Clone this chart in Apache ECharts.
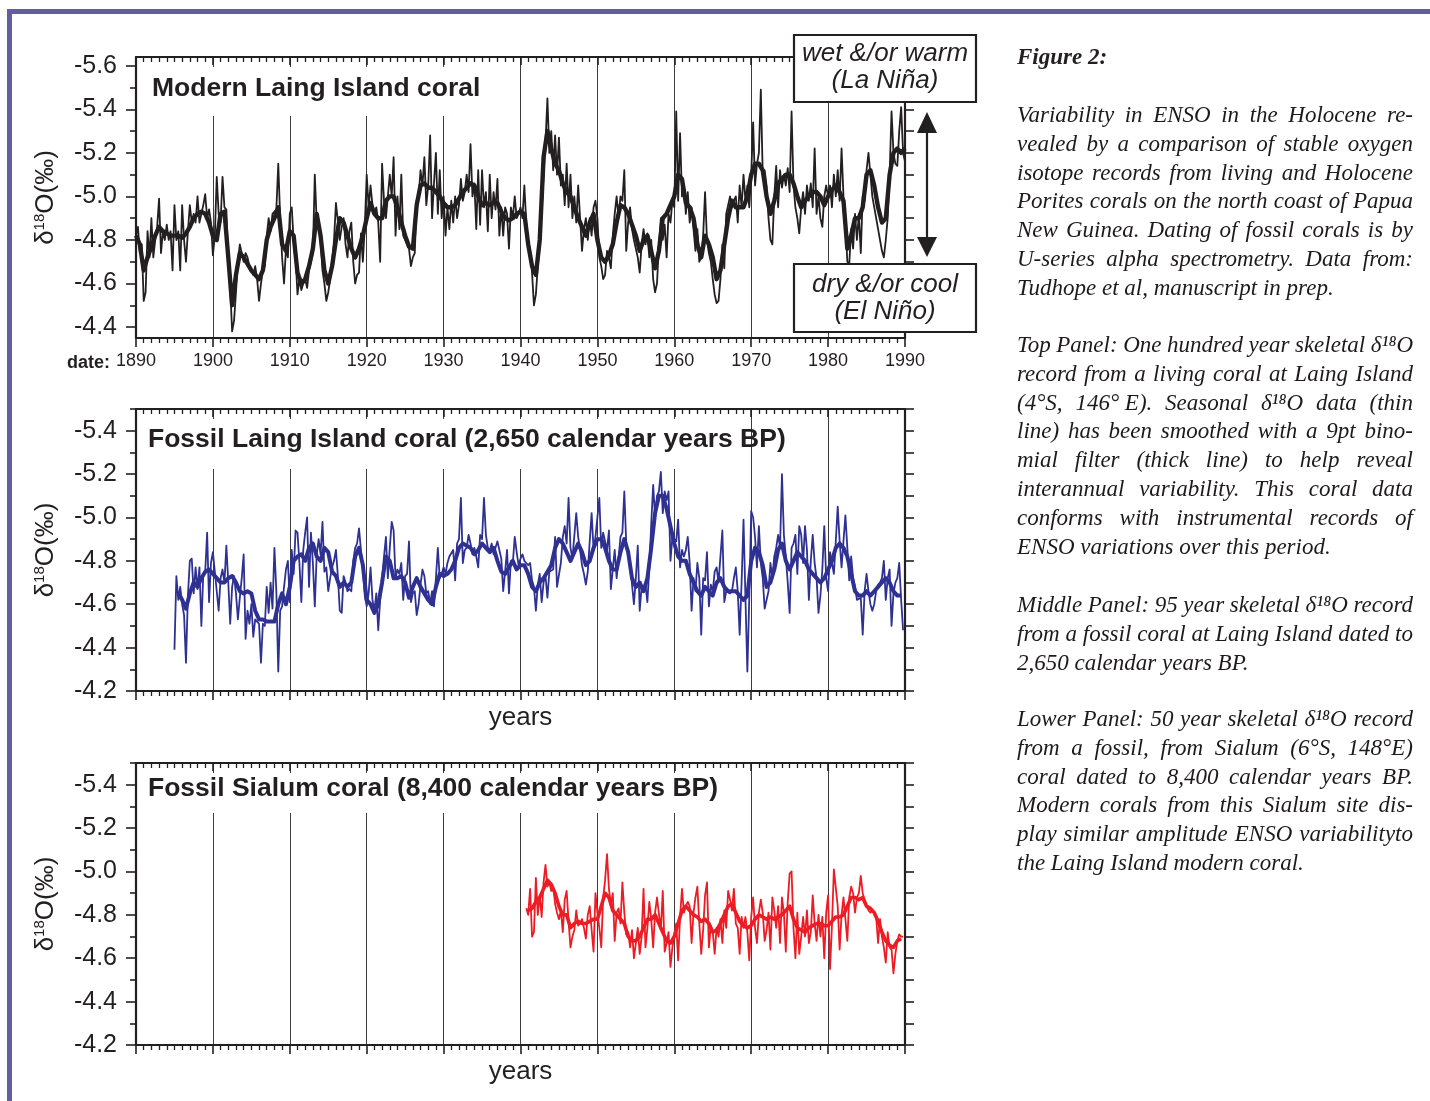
<!DOCTYPE html>
<html>
<head>
<meta charset="utf-8">
<script src="https://cdn.jsdelivr.net/npm/echarts@6/dist/echarts.min.js"></script>
<style>
html,body{margin:0;padding:0;background:#fff;}
#chart{width:1430px;height:1101px;}
</style>
</head>
<body>
<div id="chart"></div>
<script>
// ---------------- DATA ----------------
// Modern Laing Island coral: seasonal d18O (4 samples / year from 1890.0)
const modernThinStart = 1890.0;
const modernThin = [
 -4.82,-4.86,-4.74,-4.78, -4.52,-4.56,-4.84,-4.72, -4.90,-4.72,-4.80,-4.86, -4.99,-4.74,-4.84,-4.80, -4.87,-4.80,-4.84,-4.66,
 -4.96,-4.80,-4.84,-4.66, -4.96,-4.80,-4.70,-4.84, -4.96,-4.88,-4.92,-4.88, -5.00,-4.88,-4.92,-4.96, -5.01,-4.90,-4.94,-4.88,
 -4.73,-4.82,-5.09,-4.92, -4.88,-5.09,-4.95,-4.94, -4.70,-4.58,-4.38,-4.43, -4.56,-4.70,-4.78,-4.74, -4.70,-4.74,-4.72,-4.68,
 -4.66,-4.64,-4.68,-4.62, -4.52,-4.60,-4.66,-4.68, -4.82,-4.90,-4.84,-4.92, -4.93,-4.94,-5.15,-4.90, -4.72,-4.60,-4.76,-4.72,
 -4.92,-4.95,-4.80,-4.72, -4.55,-4.62,-4.57,-4.60, -4.62,-4.58,-4.66,-4.70, -4.74,-5.10,-4.88,-4.86, -4.80,-4.66,-4.60,-4.52,
 -4.56,-4.62,-4.70,-4.80, -4.97,-4.97,-4.80,-4.86, -4.90,-4.78,-4.72,-4.84, -4.88,-4.70,-4.60,-4.64, -4.65,-4.83,-4.70,-4.86,
 -5.10,-4.95,-5.05,-4.96, -4.92,-4.95,-4.88,-4.70, -5.15,-4.98,-4.90,-5.00, -5.10,-5.00,-5.18,-4.82, -5.00,-4.85,-5.10,-4.82,
 -4.82,-4.78,-4.76,-4.68, -4.72,-4.74,-4.98,-5.00, -5.12,-5.05,-5.18,-4.96, -5.05,-5.28,-4.90,-5.06, -5.20,-4.92,-5.12,-4.90,
 -5.00,-4.82,-4.95,-4.85, -4.98,-4.88,-5.00,-4.90, -4.96,-5.08,-4.98,-5.02, -5.10,-5.02,-5.24,-5.00, -5.06,-4.85,-5.12,-4.87,
 -5.12,-4.95,-5.02,-4.84, -5.10,-4.90,-5.02,-4.94, -5.08,-4.82,-4.95,-4.82, -4.95,-4.92,-4.76,-4.95, -4.90,-5.00,-4.90,-4.92,
 -4.95,-4.90,-5.05,-4.88, -4.80,-4.75,-4.65,-4.50, -4.55,-4.68,-4.80,-4.92, -5.10,-5.25,-5.45,-5.20, -5.30,-5.12,-5.28,-5.10,
 -5.27,-5.05,-5.10,-4.96, -5.15,-4.95,-5.10,-4.90, -5.00,-4.88,-5.05,-4.90, -4.75,-4.85,-4.90,-4.80, -4.90,-4.82,-4.95,-4.98,
 -4.90,-4.72,-4.68,-4.62, -4.64,-4.75,-4.72,-4.67, -4.82,-4.92,-5.00,-4.90, -5.00,-4.98,-5.12,-4.75, -4.88,-4.95,-4.85,-4.80,
 -4.80,-4.72,-4.65,-4.78, -4.85,-4.78,-4.83,-4.72, -4.80,-4.62,-4.56,-4.60, -4.78,-4.90,-4.80,-4.87, -4.72,-4.92,-4.88,-4.98,
 -4.95,-5.39,-4.98,-5.29, -5.00,-5.05,-4.92,-5.02, -4.88,-4.95,-4.85,-4.75, -4.85,-4.70,-4.72,-4.82, -5.02,-4.80,-4.74,-4.70,
 -4.62,-4.55,-4.51,-4.52, -4.62,-4.78,-4.67,-4.92, -4.92,-5.00,-4.95,-4.98, -5.00,-4.88,-5.05,-4.95, -5.10,-4.98,-5.05,-4.95,
 -5.10,-5.34,-5.05,-5.15, -5.20,-5.49,-5.10,-5.12, -5.05,-4.90,-4.80,-4.78, -5.00,-5.14,-4.95,-5.12, -5.04,-5.10,-5.05,-5.13,
 -5.02,-5.39,-5.05,-4.95, -4.90,-4.83,-4.95,-5.02, -4.92,-5.05,-4.98,-5.06, -4.95,-5.22,-4.92,-5.00, -4.90,-4.86,-5.00,-5.05,
 -5.00,-5.05,-4.95,-5.10, -5.00,-5.12,-4.98,-5.22, -5.00,-4.88,-4.70,-4.69, -4.85,-4.76,-4.92,-4.80, -4.92,-4.74,-5.00,-4.98,
 -5.12,-5.20,-5.10,-5.00, -4.95,-4.90,-4.85,-4.80, -4.75,-4.72,-4.80,-4.90, -5.10,-5.39,-5.20,-5.15, -5.14,-5.30,-5.41,-5.20,
 -5.16
];
// 9pt binomial smoothed record (2 values / year from 1890.0)
const modernSmoothStart = 1890.0;
const modernSmooth = [
 -4.82,-4.78, -4.66,-4.72, -4.77,-4.82, -4.86,-4.84, -4.83,-4.82, -4.82,-4.82, -4.81,-4.83, -4.86,-4.90, -4.92,-4.93, -4.92,-4.88,
 -4.82,-4.80, -4.92,-4.93, -4.72,-4.50, -4.64,-4.74, -4.72,-4.69, -4.66,-4.64, -4.62,-4.66, -4.80,-4.86, -4.90,-4.95, -4.78,-4.75,
 -4.84,-4.82, -4.65,-4.60, -4.62,-4.68, -4.76,-4.92, -4.82,-4.66, -4.60,-4.68, -4.80,-4.90, -4.88,-4.82, -4.76,-4.72, -4.76,-4.82,
 -4.90,-4.97, -4.92,-4.90, -4.90,-4.98, -5.00,-5.00, -4.95,-4.88, -4.82,-4.77, -4.76,-4.96, -5.05,-5.06, -5.04,-5.04, -5.02,-5.00,
 -4.97,-4.95, -4.95,-4.96, -4.99,-5.02, -5.04,-5.06, -5.05,-5.00, -4.96,-4.97, -4.96,-4.97, -4.97,-4.93, -4.90,-4.89, -4.90,-4.92,
 -4.93,-4.92, -4.78,-4.68, -4.64,-4.80, -5.18,-5.30, -5.22,-5.15, -5.12,-5.06, -5.02,-5.00, -4.95,-4.90, -4.86,-4.82, -4.88,-4.92,
 -4.80,-4.72, -4.70,-4.73, -4.78,-4.88, -4.96,-4.95, -4.92,-4.87, -4.82,-4.75, -4.80,-4.82, -4.75,-4.67, -4.75,-4.90, -4.92,-4.96,
 -5.00,-5.10, -5.08,-4.97, -4.95,-4.90, -4.78,-4.72, -4.82,-4.78, -4.72,-4.62, -4.66,-4.78, -4.90,-4.98, -4.95,-4.95, -4.95,-5.00,
 -5.10,-5.15, -5.15,-5.12, -5.00,-4.92, -4.98,-5.06, -5.08,-5.10, -5.10,-5.06, -5.00,-4.95, -4.98,-5.00, -5.02,-5.02, -5.00,-4.96,
 -5.00,-5.03, -5.05,-5.02, -4.98,-4.76, -4.82,-4.90, -4.90,-4.95, -5.10,-5.12, -5.05,-4.95, -4.88,-4.90, -5.10,-5.20, -5.22,-5.20,
 -5.22
];

// Fossil Laing Island coral, 2,650 cal. yr BP (4 samples / year from 1895.0)
const laingThinStart = 1895.0;
const laingThin = [
 -4.39,-4.73,-4.62,-4.68, -4.60,-4.55,-4.33,-4.64, -4.80,-4.81,-4.65,-4.77, -4.67,-4.77,-4.50,-4.74, -4.75,-4.93,-4.61,-4.79,
 -4.84,-4.84,-4.66,-4.57, -4.72,-4.76,-4.70,-4.87, -4.70,-4.51,-4.68,-4.73, -4.65,-4.53,-4.63,-4.72, -4.83,-4.44,-4.57,-4.51,
 -4.60,-4.45,-4.53,-4.52, -4.51,-4.33,-4.51,-4.50, -4.68,-4.56,-4.70,-4.58, -4.86,-4.66,-4.29,-4.57, -4.59,-4.68,-4.76,-4.80,
 -4.61,-4.85,-4.74,-4.94, -4.93,-4.79,-4.61,-4.85, -4.93,-5.00,-4.68,-4.93, -4.79,-4.59,-4.83,-4.90, -4.83,-4.98,-4.75,-4.77,
 -4.66,-4.72,-4.77,-4.80, -4.85,-4.73,-4.57,-4.56, -4.73,-4.70,-4.66,-4.67, -4.66,-4.80,-4.86,-4.88, -4.95,-4.85,-4.76,-4.64,
 -4.59,-4.65,-4.77,-4.62, -4.57,-4.65,-4.48,-4.62, -4.72,-4.82,-4.91,-4.72, -4.86,-4.98,-4.94,-4.72, -4.76,-4.74,-4.79,-4.62,
 -4.73,-4.74,-4.89,-4.61, -4.65,-4.66,-4.55,-4.60, -4.69,-4.76,-4.73,-4.65, -4.66,-4.60,-4.66,-4.59, -4.72,-4.86,-4.72,-4.74,
 -4.77,-4.74,-4.79,-4.82, -4.82,-4.85,-4.71,-4.88, -4.90,-5.09,-4.79,-4.85, -4.86,-4.92,-4.88,-4.83, -4.86,-4.82,-4.77,-4.92,
 -4.90,-5.09,-4.92,-4.86, -4.85,-4.88,-4.83,-4.86, -4.89,-4.85,-4.81,-4.66, -4.75,-4.85,-4.65,-4.80, -4.79,-4.91,-4.84,-4.78,
 -4.81,-4.83,-4.80,-4.79, -4.78,-4.79,-4.71,-4.68, -4.57,-4.69,-4.74,-4.61, -4.70,-4.73,-4.63,-4.75, -4.75,-4.76,-4.91,-4.68,
 -4.68,-4.79,-4.91,-4.96, -4.88,-5.09,-4.86,-4.81, -4.81,-5.02,-4.91,-4.85, -4.78,-4.74,-4.69,-4.75, -4.89,-5.02,-4.85,-4.91,
 -4.91,-5.09,-4.86,-4.93, -4.93,-4.85,-4.94,-4.67, -4.67,-4.85,-4.72,-4.81, -4.91,-4.93,-5.12,-4.88, -4.88,-4.79,-4.69,-4.60,
 -4.72,-4.87,-4.57,-4.68, -4.68,-4.69,-4.61,-4.77, -4.97,-5.15,-5.00,-5.10, -5.12,-5.21,-5.02,-5.12, -5.08,-5.12,-4.80,-4.91,
 -4.91,-4.89,-4.99,-4.77, -4.85,-4.82,-4.85,-4.91, -4.79,-4.57,-4.72,-4.66, -4.79,-4.72,-4.46,-4.72, -4.71,-4.84,-4.59,-4.69,
 -4.66,-4.75,-4.77,-4.70, -4.70,-4.94,-4.61,-4.66, -4.66,-4.65,-4.66,-4.72, -4.77,-4.66,-4.46,-4.70, -4.99,-4.63,-4.29,-4.63,
 -5.03,-5.00,-4.91,-4.77, -4.96,-4.79,-4.72,-4.58, -4.58,-4.66,-4.79,-4.72, -4.82,-4.86,-4.92,-4.86, -5.20,-4.92,-4.82,-4.70,
 -4.56,-4.86,-4.88,-4.92, -4.74,-4.96,-4.92,-4.79, -4.96,-4.85,-4.62,-4.80, -4.92,-4.79,-4.72,-4.56, -4.64,-4.76,-4.96,-4.72,
 -4.66,-4.84,-4.79,-4.74, -4.89,-5.05,-4.89,-4.77, -4.77,-5.01,-4.86,-4.71, -4.82,-4.72,-4.68,-4.62, -4.62,-4.63,-4.46,-4.66,
 -4.74,-4.66,-4.60,-4.57, -4.60,-4.66,-4.69,-4.70, -4.72,-4.80,-4.62,-4.72, -4.76,-4.50,-4.65,-4.70, -4.72,-4.79,-4.62,-4.48
];
const laingSmoothStart = 1895.5;
const laingSmooth = [
 -4.65, -4.62,-4.58, -4.65,-4.70, -4.68,-4.72, -4.75,-4.76,
 -4.74,-4.72, -4.70,-4.70, -4.72,-4.73, -4.70,-4.66, -4.65,-4.66, -4.65,-4.57, -4.53,-4.53, -4.52,-4.52, -4.52,-4.60, -4.65,-4.60,
 -4.68,-4.80, -4.82,-4.83, -4.80,-4.86, -4.88,-4.82, -4.80,-4.86, -4.84,-4.75, -4.73,-4.68, -4.70,-4.68, -4.70,-4.82, -4.86,-4.78,
 -4.62,-4.60, -4.56,-4.60, -4.70,-4.82, -4.80,-4.72, -4.72,-4.73, -4.70,-4.63, -4.68,-4.72, -4.68,-4.65, -4.62,-4.60, -4.68,-4.74,
 -4.73,-4.74, -4.76,-4.80, -4.86,-4.88, -4.87,-4.86, -4.83,-4.85, -4.88,-4.86, -4.84,-4.86, -4.80,-4.75, -4.74,-4.77, -4.80,-4.76,
 -4.78,-4.78, -4.74,-4.68, -4.66,-4.70, -4.72,-4.75, -4.78,-4.86, -4.90,-4.88, -4.84,-4.80, -4.84,-4.88, -4.84,-4.78, -4.80,-4.86,
 -4.90,-4.90, -4.86,-4.80, -4.76,-4.76, -4.84,-4.90, -4.84,-4.72, -4.68,-4.70, -4.66,-4.72, -4.86,-5.02, -5.10,-5.10, -5.04,-4.96,
 -4.88,-4.82, -4.80,-4.80, -4.74,-4.70, -4.66,-4.64, -4.68,-4.66, -4.64,-4.70, -4.72,-4.68, -4.66,-4.66, -4.66,-4.64, -4.62,-4.64,
 -4.80,-4.86, -4.84,-4.78, -4.68,-4.70, -4.76,-4.85, -4.88,-4.80, -4.76,-4.80, -4.84,-4.82, -4.80,-4.76, -4.74,-4.72, -4.70,-4.72,
 -4.76,-4.80, -4.86,-4.88, -4.86,-4.82, -4.74,-4.66, -4.64,-4.64, -4.66,-4.64, -4.66,-4.68, -4.70,-4.72, -4.70,-4.66, -4.64,-4.64
];

// Fossil Sialum coral, 8,400 cal. yr BP (4 samples / year from 1940.75)
const sialumThinStart = 1940.75;
const sialumThin = [
 -4.83,
 -4.80,-4.92,-4.70,-4.72, -4.97,-4.80,-4.89,-4.79, -4.95,-5.03,-4.93,-4.95, -4.91,-4.93,-4.85,-4.81, -4.78,-4.82,-4.72,-4.87,
 -4.91,-4.77,-4.65,-4.70, -4.73,-4.82,-4.75,-4.76, -4.78,-4.74,-4.69,-4.80, -4.84,-4.73,-4.63,-4.90, -4.81,-4.74,-4.65,-4.88,
 -4.96,-5.08,-4.92,-4.85, -4.90,-4.68,-4.81,-4.83, -4.76,-4.95,-4.81,-4.71, -4.72,-4.65,-4.73,-4.60, -4.67,-4.74,-4.62,-4.70,
 -4.92,-4.65,-4.74,-4.86, -4.78,-4.65,-4.81,-4.88, -4.88,-4.73,-4.91,-4.63, -4.67,-4.72,-4.56,-4.65, -4.71,-4.76,-4.59,-4.79,
 -4.92,-4.81,-4.84,-4.86, -4.84,-4.67,-4.81,-4.88, -4.93,-4.76,-4.62,-4.73, -4.89,-4.95,-4.65,-4.75, -4.72,-4.62,-4.74,-4.70,
 -4.78,-4.67,-4.82,-4.74, -4.91,-4.87,-4.82,-4.92, -4.76,-4.74,-4.62,-4.79, -4.74,-4.79,-4.72,-4.59, -4.79,-4.88,-4.74,-4.67,
 -4.81,-4.87,-4.81,-4.68, -4.73,-4.81,-4.64,-4.88, -4.82,-4.74,-4.84,-4.67, -4.88,-4.81,-4.63,-4.86, -4.99,-5.00,-4.74,-4.60,
 -4.81,-4.62,-4.70,-4.79, -4.70,-4.82,-4.67,-4.72, -4.89,-4.76,-4.68,-4.80, -4.70,-4.79,-4.60,-4.81, -4.89,-4.55,-4.75,-5.01,
 -5.01,-4.84,-4.64,-4.80, -4.88,-4.78,-4.68,-4.88, -4.93,-4.90,-4.81,-4.88, -4.90,-4.98,-4.90,-4.87, -4.84,-4.82,-4.81,-4.82,
 -4.81,-4.79,-4.67,-4.78, -4.70,-4.65,-4.58,-4.72, -4.65,-4.64,-4.53,-4.62, -4.68,-4.71,-4.70,-4.70
];
const sialumSmoothStart = 1941.0;
const sialumSmooth = [
 -4.82,-4.83, -4.86,-4.88, -4.92,-4.96, -4.94,-4.90, -4.84,-4.80, -4.80,-4.74, -4.76,-4.77, -4.76,-4.76, -4.77,-4.78, -4.78,-4.84,
 -4.90,-4.88, -4.82,-4.80, -4.78,-4.76, -4.70,-4.68, -4.68,-4.70, -4.74,-4.78, -4.78,-4.80, -4.76,-4.72, -4.68,-4.67, -4.70,-4.76,
 -4.82,-4.84, -4.82,-4.80, -4.79,-4.77, -4.78,-4.76, -4.72,-4.73, -4.76,-4.80, -4.84,-4.85, -4.81,-4.77, -4.75,-4.74, -4.75,-4.78,
 -4.80,-4.79, -4.78,-4.79, -4.78,-4.79, -4.80,-4.82, -4.84,-4.78, -4.74,-4.73, -4.72,-4.74, -4.75,-4.76, -4.76,-4.75, -4.75,-4.77,
 -4.79,-4.79, -4.80,-4.84, -4.88,-4.88, -4.87,-4.88, -4.84,-4.83, -4.81,-4.77, -4.72,-4.68, -4.66,-4.65, -4.68,-4.69
];

// Axis ticks / labels
const xYears = [1890, 1990];
const modernTickLabels = [-5.6, -5.4, -5.2, -5.0, -4.8, -4.6, -4.4];
const modernMinorTicks = [-5.5, -5.3, -5.1, -4.9, -4.7, -4.5];
const fossilTickLabels = [-5.4, -5.2, -5.0, -4.8, -4.6, -4.4, -4.2];
const fossilMinorTicks = [-5.5, -5.3, -5.1, -4.9, -4.7, -4.5, -4.3];

const panelTitles = [
  'Modern Laing Island coral',
  'Fossil Laing Island coral (2,650 calendar years BP)',
  'Fossil Sialum coral (8,400 calendar years BP)'
];

// ---------------- STYLE / LAYOUT ----------------
const INK = '#231f20';
const SANS = '"Liberation Sans", Arial, Helvetica, sans-serif';
const SERIF = '"Liberation Serif", "Times New Roman", serif';
const colors = ['#231f20', '#2e3192', '#ed1c24'];

const panels = [
  {top: 57, height: 281, min: -5.64, max: -4.35, labels: modernTickLabels, minor: modernMinorTicks,
   thin: [modernThinStart, 0.25, modernThin], smooth: [modernSmoothStart, 0.5, modernSmooth],
   thinW: 1.8, thickW: 4.4, showX: true, xName: '',
   mask: {x: 139, y: 67, w: 350, h: 49}, titleXY: [152, 89]},
  {top: 409, height: 282, min: -5.5, max: -4.2, labels: fossilTickLabels, minor: fossilMinorTicks,
   thin: [laingThinStart, 0.25, laingThin], smooth: [laingSmoothStart, 0.5, laingSmooth],
   thinW: 1.8, thickW: 4.0, showX: false, xName: 'years',
   mask: {x: 139, y: 419, w: 606, h: 50}, titleXY: [148, 440]},
  {top: 763, height: 282, min: -5.5, max: -4.2, labels: fossilTickLabels, minor: fossilMinorTicks,
   thin: [sialumThinStart, 0.25, sialumThin], smooth: [sialumSmoothStart, 0.5, sialumSmooth],
   thinW: 1.8, thickW: 3.6, showX: false, xName: 'years',
   mask: {x: 139, y: 773, w: 606, h: 40}, titleXY: [148, 789]}
];

function pairs(spec) {
  const [start, step, vals] = spec;
  return vals.map((v, i) => [+(start + i * step).toFixed(2), v]);
}

const grids = [], xAxes = [], yAxes = [], series = [];
const GRID_LEFT = 136, GRID_W = 769;

panels.forEach((p, i) => {
  grids.push({left: GRID_LEFT, top: p.top, width: GRID_W, height: p.height, containLabel: false});
  // bottom x axis
  xAxes.push({
    type: 'value', gridIndex: i, position: 'bottom', min: xYears[0], max: xYears[1], interval: 10,
    axisLine: {show: true, lineStyle: {color: INK, width: 2.2}},
    axisTick: {show: true, length: 9, lineStyle: {color: INK, width: 1.6}},
    minorTick: {show: true, splitNumber: 10, length: 5, lineStyle: {color: INK, width: 1.3}},
    splitLine: {show: true, lineStyle: {color: '#3c3c3c', width: 1}},
    axisLabel: {show: p.showX, fontSize: 18, color: INK, fontFamily: SANS, margin: 14, formatter: v => String(v)},
    name: p.xName, nameLocation: 'middle', nameGap: 14,
    nameTextStyle: {fontSize: 26, color: INK, fontFamily: SANS, verticalAlign: 'top'}
  });
  // top x axis
  xAxes.push({
    type: 'value', gridIndex: i, position: 'top', min: xYears[0], max: xYears[1], interval: 10,
    axisLine: {show: true, lineStyle: {color: INK, width: 2.2}},
    axisTick: {show: true, inside: true, length: 8, lineStyle: {color: INK, width: 1.6}},
    minorTick: {show: true, splitNumber: 10, length: 5, lineStyle: {color: INK, width: 1.3}},
    splitLine: {show: false}, axisLabel: {show: false}
  });
  // left y axis, major ticks + labels
  yAxes.push({
    type: 'value', gridIndex: i, position: 'left', inverse: true, min: p.min, max: p.max,
    axisLine: {show: true, lineStyle: {color: INK, width: 2.2}},
    axisTick: {show: true, customValues: p.labels, length: 10, lineStyle: {color: INK, width: 1.6}},
    axisLabel: {show: true, customValues: p.labels, formatter: v => v.toFixed(1),
      fontSize: 25, color: INK, fontFamily: SANS, margin: 19},
    splitLine: {show: false},
    name: '{d|\u03b4}{s|18}{d|O(\u2030)}', nameLocation: 'middle', nameGap: 76, nameRotate: 90,
    nameTextStyle: {color: INK, fontFamily: SANS,
      rich: {d: {fontSize: 26, lineHeight: 28, fontFamily: SANS, color: INK},
             s: {fontSize: 15, lineHeight: 16, verticalAlign: 'top', fontFamily: SANS, color: INK}}}
  });
  // left y axis, minor ticks
  yAxes.push({
    type: 'value', gridIndex: i, position: 'left', offset: 0, inverse: true, min: p.min, max: p.max,
    axisLine: {show: false},
    axisTick: {show: true, customValues: p.minor, length: 6, lineStyle: {color: INK, width: 1.6}},
    axisLabel: {show: false}, splitLine: {show: false}
  });
  // right y axis
  yAxes.push({
    type: 'value', gridIndex: i, position: 'right', inverse: true, min: p.min, max: p.max,
    axisLine: {show: true, lineStyle: {color: INK, width: 2.2}},
    axisTick: {show: true, customValues: p.labels.concat(p.minor), length: 9, lineStyle: {color: INK, width: 1.6}},
    axisLabel: {show: false}, splitLine: {show: false}
  });

  series.push({
    type: 'line', xAxisIndex: 2 * i, yAxisIndex: 3 * i, data: pairs(p.thin),
    symbol: 'none', showSymbol: false, silent: true, z: 3,
    lineStyle: {color: colors[i], width: p.thinW, join: 'round'}
  });
  series.push({
    type: 'line', xAxisIndex: 2 * i, yAxisIndex: 3 * i, data: pairs(p.smooth),
    symbol: 'none', showSymbol: false, silent: true, z: 4,
    lineStyle: {color: colors[i], width: p.thickW, join: 'round'}
  });
});

// ---------------- GRAPHICS (text, boxes, arrow, frame) ----------------
const graphics = [];
// purple figure frame
graphics.push({type: 'rect', shape: {x: 7, y: 9, width: 1430, height: 5}, style: {fill: '#625e9f'}, z: 50, silent: true});
graphics.push({type: 'rect', shape: {x: 7, y: 9, width: 5, height: 1100}, style: {fill: '#625e9f'}, z: 50, silent: true});

panels.forEach((p, i) => {
  graphics.push({type: 'rect', shape: {x: p.mask.x, y: p.mask.y, width: p.mask.w, height: p.mask.h},
    style: {fill: '#ffffff'}, z: 20, silent: true});
  graphics.push({type: 'text', x: p.titleXY[0], y: p.titleXY[1], z: 21, silent: true,
    style: {text: panelTitles[i], fontSize: 26.5, fontWeight: 'bold', fontFamily: SANS, fill: INK,
      verticalAlign: 'middle', align: 'left'}});
});

// "date:" prefix for the first x tick label
graphics.push({type: 'text', x: 110, y: 363, z: 21, silent: true,
  style: {text: 'date:', fontSize: 18, fontWeight: 'bold', fontFamily: SANS, fill: INK, align: 'right', verticalAlign: 'middle'}});

// annotation boxes
const boxes = [
  {y: 35, h: 67, l1: 'wet &/or warm', l2: '(La Ni\u00f1a)', y1: 54, y2: 81},
  {y: 264, h: 68, l1: 'dry &/or cool', l2: '(El Ni\u00f1o)', y1: 285, y2: 312}
];
boxes.forEach(b => {
  graphics.push({type: 'rect', shape: {x: 794, y: b.y, width: 182, height: b.h},
    style: {fill: '#fff', stroke: INK, lineWidth: 2.2}, z: 30, silent: true});
  [[b.l1, b.y1], [b.l2, b.y2]].forEach(([t, y]) => graphics.push({type: 'text', x: 885, y: y, z: 31, silent: true,
    style: {text: t, fontSize: 26, fontStyle: 'italic', fontFamily: SANS, fill: INK, align: 'center', verticalAlign: 'middle'}}));
});
// double-headed arrow
graphics.push({type: 'line', shape: {x1: 927, y1: 128, x2: 927, y2: 242}, style: {stroke: INK, lineWidth: 2.2}, z: 30, silent: true});
graphics.push({type: 'polygon', shape: {points: [[927, 112], [917, 133], [937, 133]]}, style: {fill: INK}, z: 30, silent: true});
graphics.push({type: 'polygon', shape: {points: [[927, 257], [917, 237], [937, 237]]}, style: {fill: INK}, z: 30, silent: true});

// caption text (justified)
const caption = [
  {y: 116, lines: [
    'Variability in ENSO in the Holocene re-',
    'vealed by a comparison of stable oxygen',
    'isotope records from living and Holocene',
    'Porites corals on the north coast of Papua',
    'New Guinea. Dating of fossil corals is by',
    'U-series alpha spectrometry. Data from:',
    'Tudhope et al, manuscript in prep.']},
  {y: 346, lines: [
    'Top Panel: One hundred year skeletal \u03b4\u00b9\u2078O',
    'record from a living coral at Laing Island',
    '(4\u00b0S, 146\u00b0\u00a0E). Seasonal \u03b4\u00b9\u2078O data (thin',
    'line) has been smoothed with a 9pt bino-',
    'mial filter (thick line) to help reveal',
    'interannual variability. This coral data',
    'conforms with instrumental records of',
    'ENSO variations over this period.']},
  {y: 606, lines: [
    'Middle Panel: 95 year skeletal \u03b4\u00b9\u2078O record',
    'from a fossil coral at Laing Island dated to',
    '2,650 calendar years BP.']},
  {y: 720, lines: [
    'Lower Panel: 50 year skeletal \u03b4\u00b9\u2078O record',
    'from a fossil, from Sialum (6\u00b0S, 148\u00b0E)',
    'coral dated to 8,400 calendar years BP.',
    'Modern corals from this Sialum site dis-',
    'play similar amplitude ENSO variabilityto',
    'the Laing Island modern coral.']}
];
const CAP_X = 1017, CAP_W = 396, CAP_LH = 28.8, CAP_FS = 23;
const mctx = document.createElement('canvas').getContext('2d');
mctx.font = 'italic normal ' + CAP_FS + 'px "Liberation Serif"';
const spaceW = mctx.measureText(' ').width;

graphics.push({type: 'text', x: CAP_X, y: 58, z: 21, silent: true,
  style: {text: 'Figure 2:', fontSize: 23, fontStyle: 'italic', fontWeight: 'bold', fontFamily: SERIF, fill: INK, verticalAlign: 'middle'}});

caption.forEach(par => {
  par.lines.forEach((line, li) => {
    const y = par.y + li * CAP_LH;
    const words = line.split(' ');
    const widths = words.map(w => mctx.measureText(w).width);
    const total = widths.reduce((a, b) => a + b, 0);
    const last = li === par.lines.length - 1;
    const gap = (last || words.length < 2) ? spaceW : (CAP_W - total) / (words.length - 1);
    let x = CAP_X;
    words.forEach((w, wi) => {
      graphics.push({type: 'text', x: x, y: y, z: 21, silent: true,
        style: {text: w, fontSize: CAP_FS, fontStyle: 'italic', fontFamily: SERIF, fill: '#1e1a1b', verticalAlign: 'middle'}});
      x += widths[wi] + gap;
    });
  });
});

// ---------------- CHART ----------------
const chart = echarts.init(document.getElementById('chart'), null, {renderer: 'canvas'});
chart.setOption({
  backgroundColor: '#ffffff',
  animation: false,
  grid: grids,
  xAxis: xAxes,
  yAxis: yAxes,
  series: series,
  graphic: {elements: graphics}
});
</script>
</body>
</html>
